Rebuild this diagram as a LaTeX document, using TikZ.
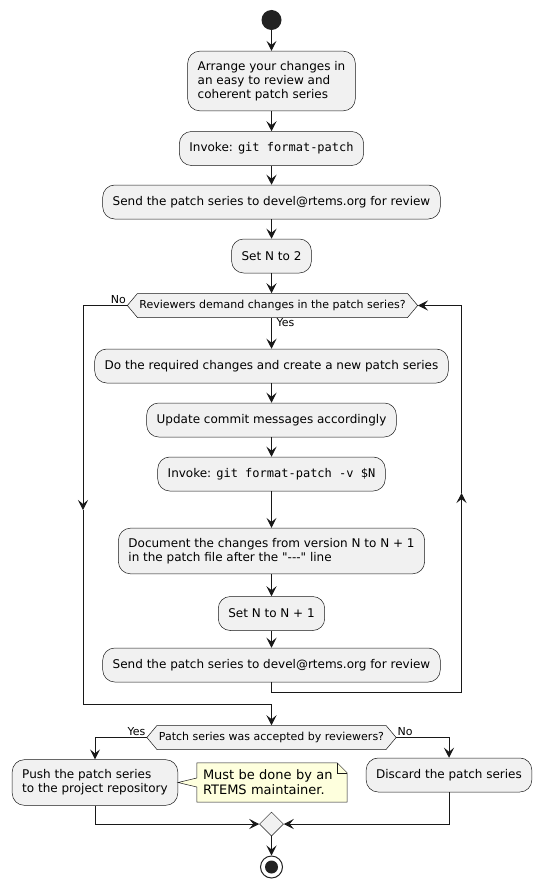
\documentclass[tikz,border=0pt]{standalone}
\usepackage{fontspec}
\setmainfont{DejaVu Sans}
\setmonofont{DejaVu Sans Mono}
\newfontfamily\plainfont{DejaVu Sans}
\usetikzlibrary{arrows.meta,shapes.symbols,shapes.geometric,calc}
\definecolor{lc}{HTML}{181818}
\definecolor{dark}{HTML}{222222}
\definecolor{boxfill}{HTML}{F1F1F1}
\definecolor{notefill}{HTML}{FEFFDD}
\begin{document}
\begin{tikzpicture}[x=1pt,y=-1pt,
  act/.style={draw=lc, line width=0.5pt, fill=boxfill, rounded corners=12pt,
    inner xsep=10pt, inner ysep=10pt, minimum height=34pt, align=left,
    font=\fontsize{12}{14}\selectfont},
  decision/.style={draw=lc, line width=0.5pt, fill=boxfill, signal,
    signal to=west and east, signal pointer angle=100, minimum height=24pt,
    inner xsep=2pt, inner ysep=2pt, font=\fontsize{11}{13}\selectfont},
  lbl/.style={font=\fontsize{11}{13}\selectfont, inner sep=1pt},
  notebox/.style={minimum width=150pt, minimum height=39pt, inner sep=0pt},
  notetext/.style={text width=138pt, inner xsep=6pt, inner ysep=2pt, align=left,
    font=\fontsize{13}{15}\selectfont},
  flow/.style={draw=lc, line width=1pt, -{Stealth[length=10pt, width=10pt, inset=4pt]}},
  plain/.style={draw=lc, line width=1pt}]
\useasboundingbox (0,0) rectangle (542,888);

\node[circle, fill=dark, minimum size=20pt, inner sep=0pt] (start) at (271.5,20) {};
\node[act] (b1) at (271.5,81) {Arrange your changes in\\an easy to review and\\coherent patch series};
\node[act] (b2) at (271.5,148.5) {Invoke: \texttt{git format-patch}};
\node[act] (b3) at (271.5,202) {Send the patch series to devel@rtems.org for review};
\node[act] (b4) at (271.5,256) {Set N to 2};
\node[decision] (h1) at (272.5,305.5) {Reviewers demand changes in the patch series?};
\node[act] (b5) at (271.5,366) {Do the required changes and create a new patch series};
\node[act] (b6) at (271.5,420) {Update commit messages accordingly};
\node[act] (b7) at (271.5,474) {Invoke: \texttt{git format-patch -v \$N}};
\node[act] (b8) at (271.5,551) {Document the changes from version N to N + 1\\in the patch file after the {\plainfont "---"} line};
\node[act] (b9) at (271.5,613.5) {Set N to N + 1};
\node[act] (b10) at (271.5,665) {Send the patch series to devel@rtems.org for review};
\node[decision] (h2) at (271.5,737.5) {Patch series was accepted by reviewers?};
\node[act] (b11) at (95,782.5) {Push the patch series\\to the project repository};
\node[act] (b12) at (449,775) {Discard the patch series};
\node[diamond, draw=lc, line width=0.5pt, fill=boxfill, minimum width=24pt, minimum height=24pt, inner sep=0pt] (merge) at (271.5,824) {};
\node[circle, draw=dark, line width=1pt, fill=white, minimum size=22pt, inner sep=0pt] (stop) at (271.5,867) {};
\fill[dark] (stop.center) circle (6.5pt);

% note with pointer
\node[notebox] (note) at (272,782.5) {};
\filldraw[fill=notefill, draw=lc, line width=0.5pt]
  (note.north west) -- ($(note.north east)+(-10,0)$) -- ($(note.north east)+(0,10)$)
  -- (note.south east) -- (note.south west) -- ($(note.west)+(0,4.5)$) -- (b11.east)
  -- ($(note.west)+(0,-4.5)$) -- cycle;
\draw[draw=lc, line width=0.5pt] ($(note.north east)+(-10,0)$) -- ($(note.north east)+(-10,10)$) -- ($(note.north east)+(0,10)$);
\node[notetext] (notetxt) at (note) {Must be done by an\\RTEMS maintainer.};

% coordinates for loops
\coordinate (lmid) at (83,510);
\coordinate (lcorner) at (83,704);
\coordinate (jn) at (271.5,704);
\coordinate (rb) at (271.5,692);
\coordinate (rc) at (461.5,692);
\coordinate (rmid) at (461.5,493);

% main flow
\draw[flow] (start) -- (b1);
\draw[flow] (b1) -- (b2);
\draw[flow] (b2) -- (b3);
\draw[flow] (b3) -- (b4);
\draw[flow] (b4) -- (b4 |- h1.north);
\draw[flow] (h1.south -| b5) -- (b5);
\draw[flow] (b5) -- (b6);
\draw[flow] (b6) -- (b7);
\draw[flow] (b7) -- (b8);
\draw[flow] (b8) -- (b9);
\draw[flow] (b9) -- (b10);

% right loop back
\draw[plain] (b10.south) -- (rb) -- (rc);
\draw[flow] (rc) -- (rmid);
\draw[flow] (rmid) |- (h1.east);

% left exit
\draw[flow] (h1.west) -| (lmid);
\draw[plain] (lmid) -- (lcorner) -- (jn);
\draw[flow] (jn) -- (h2.north);

\node[lbl, anchor=south east] at ($(h1.west)+(0,-1)$) {No};
\node[lbl, anchor=north west] at ($(h1.south -| b5)+(4,0)$) {Yes};

% second decision
\draw[flow] (h2.west) -| (b11.north);
\draw[flow] (h2.east) -| (b12.north);
\node[lbl, anchor=south east] at ($(h2.west)+(0,-1)$) {Yes};
\node[lbl, anchor=south west] at ($(h2.east)+(0,-1)$) {No};

\draw[flow] (b11.south) |- (merge.west);
\draw[flow] (b12.south) |- (merge.east);
\draw[flow] (merge) -- (stop);
\end{tikzpicture}
\end{document}
